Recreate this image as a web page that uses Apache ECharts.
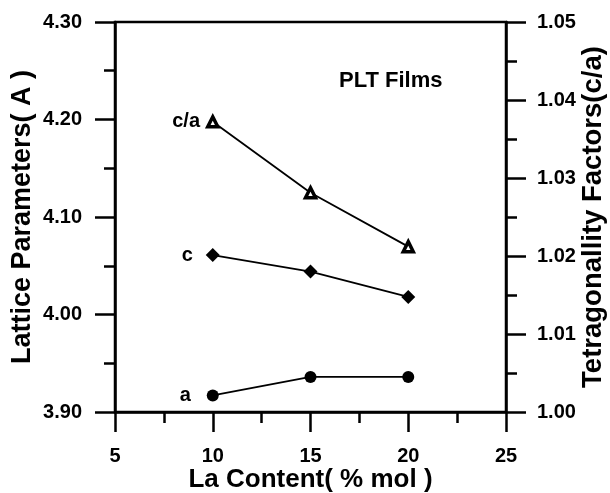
<!DOCTYPE html>
<html>
<head>
<meta charset="utf-8">
<title>PLT Films</title>
<script src="https://cdn.jsdelivr.net/npm/echarts@6/dist/echarts.min.js"></script>
<style>
    html, body { margin: 0; padding: 0; background: #fff; }
    #chart { width: 610px; height: 493px; }
</style>
</head>
<body>
<div id="chart"></div>
<script>
// La content (% mol) on the x axis
const laContent = [10, 15, 20];
// lattice parameters, left axis
const latticeA = [3.917, 3.936, 3.936];
const latticeC = [4.061, 4.044, 4.018];
// tetragonality c/a, right axis
const tetragonality = [1.0372, 1.0281, 1.0212];

const FONT = "'Liberation Sans', Arial, sans-serif";

/**
 * @description 组装折线数据, 第一个点带名称标签
 */
function buildData(values, name, distance) {
    return laContent.map((x, i) => {
        let item = { value: [x, values[i]] };
        if (i === 0) {
            item.label = {
                show: true, position: "left", distance: distance, formatter: name,
                color: "#000", fontFamily: FONT, fontWeight: "bold", fontSize: 20
            };
        }
        return item;
    });
}

function valueAxis(extra) {
    return Object.assign({
        type: "value",
        axisLine: { show: true, onZero: false, lineStyle: { color: "#000", width: 2.5 } },
        axisTick: { show: true, inside: false, length: 20, lineStyle: { color: "#000", width: 2.5 } },
        minorTick: { show: true, splitNumber: 2, length: 11, lineStyle: { color: "#000", width: 2.5 } },
        splitLine: { show: false },
        minorSplitLine: { show: false },
        axisLabel: { color: "#000", fontFamily: FONT, fontWeight: "bold", fontSize: 20 },
        nameLocation: "middle",
        nameMoveOverlap: false,
        nameTextStyle: { color: "#000", fontFamily: FONT, fontWeight: "bold", fontSize: 26 }
    }, extra);
}

const chart = echarts.init(document.getElementById("chart"));
chart.setOption({
    backgroundColor: "#fff",
    animation: false,
    title: {
        text: "PLT Films", left: 334, top: 65,
        textStyle: { color: "#000", fontFamily: FONT, fontWeight: "bold", fontSize: 22 }
    },
    grid: {
        left: 115, right: 104, top: 22, bottom: 81,
        outerBoundsMode: "none",
        show: true, borderColor: "#000", borderWidth: 2.5, backgroundColor: "transparent"
    },
    xAxis: valueAxis({
        min: 5, max: 25, interval: 5,
        name: "La Content( % mol )", nameGap: 55,
        axisLabel: { color: "#000", fontFamily: FONT, fontWeight: "bold", fontSize: 20, margin: 34 }
    }),
    yAxis: [
        valueAxis({
            min: 3.9, max: 4.3, interval: 0.1, position: "left",
            name: "Lattice Parameters( A )", nameGap: 79, nameRotate: 90,
            nameTextStyle: { color: "#000", fontFamily: FONT, fontWeight: "bold", fontSize: 27 },
            axisLabel: {
                color: "#000", fontFamily: FONT, fontWeight: "bold", fontSize: 20, margin: 33,
                formatter: (v) => v.toFixed(2)
            }
        }),
        valueAxis({
            min: 1.0, max: 1.05, interval: 0.01, position: "right",
            name: "Tetragonallity Factors(c/a)", nameGap: 73, nameRotate: 90,
            nameTextStyle: { color: "#000", fontFamily: FONT, fontWeight: "bold", fontSize: 27.5 },
            axisLabel: {
                color: "#000", fontFamily: FONT, fontWeight: "bold", fontSize: 20, margin: 31,
                formatter: (v) => v.toFixed(2)
            }
        })
    ],
    series: [
        {
            name: "c/a", type: "line", yAxisIndex: 1,
            data: buildData(tetragonality, "c/a", 6),
            symbol: "triangle", symbolSize: 10,
            itemStyle: { color: "#fff", borderColor: "#000", borderWidth: 3.5 },
            lineStyle: { color: "#000", width: 1.8 }
        },
        {
            name: "c", type: "line", yAxisIndex: 0,
            data: buildData(latticeC, "c", 13),
            symbol: "diamond", symbolSize: 14,
            itemStyle: { color: "#000" },
            lineStyle: { color: "#000", width: 1.8 }
        },
        {
            name: "a", type: "line", yAxisIndex: 0,
            data: buildData(latticeA, "a", 16),
            symbol: "circle", symbolSize: 12,
            itemStyle: { color: "#000" },
            lineStyle: { color: "#000", width: 1.8 }
        }
    ]
});
</script>
</body>
</html>
